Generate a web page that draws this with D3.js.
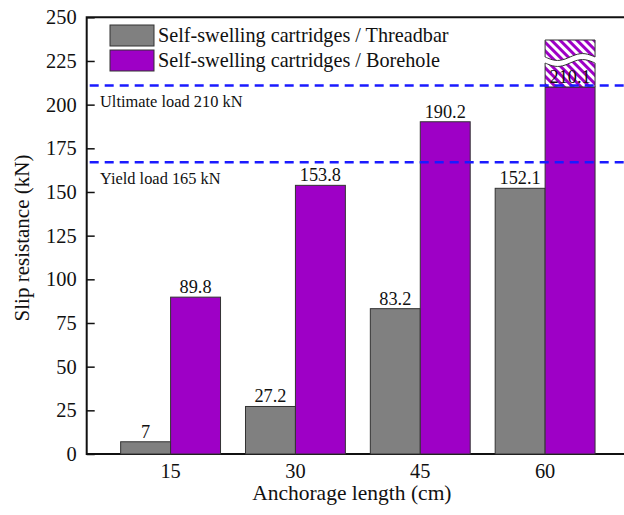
<!DOCTYPE html>
<html>
<head>
<meta charset="utf-8">
<script src="https://cdn.jsdelivr.net/npm/d3@7"></script>
<style>
  body { margin: 0; background: #fff; }
  svg text { font-family: 'Liberation Serif', 'Times New Roman', 'DejaVu Serif', serif !important; }
</style>
</head>
<body>
<div id="chart"></div>
<script>
////////// Data //////////
const lengths = ['15', '30', '45', '60'];
const threadbar = [7, 27.2, 83.2, 152.1];
const borehole = [89.8, 153.8, 190.2, 210.1];
const seriesNames = ['Self-swelling cartridges / Threadbar', 'Self-swelling cartridges / Borehole'];
const refLines = [
  { value: 211, label: 'Ultimate load 210 kN' },
  { value: 167, label: 'Yield load 165 kN' }
];
const yTicks = [0, 25, 50, 75, 100, 125, 150, 175, 200, 225, 250];
const brokenTop = 237; // top of broken (hatched) bar extension

////////// Layout //////////
const W = 624, H = 515;
const mLeft = 86.7, mRight = 629, mTop = 17.3, mBottom = 454;
const colors = ['#808080', '#9e00c6'];
const strokeColor = '#333';

const svg = d3.select('#chart').append('svg').attr('width', W).attr('height', H);

const x = d3.scaleBand().domain(lengths).range([mLeft, mRight]).paddingInner(0.2).paddingOuter(0.272);
const xs = d3.scaleBand().domain([0, 1]).range([0, x.bandwidth()]);
const y = d3.scaleLinear().domain([0, 250]).range([mBottom, mTop]);

// hatch pattern
const defs = svg.append('defs');
const pat = defs.append('pattern')
  .attr('id', 'hatch').attr('patternUnits', 'userSpaceOnUse')
  .attr('width', 6).attr('height', 6)
  .attr('patternTransform', 'rotate(-45)');
pat.append('rect').attr('width', 6).attr('height', 6).attr('fill', '#fff');
pat.append('rect').attr('width', 3).attr('height', 6).attr('fill', colors[1]);

// frame
svg.append('path')
  .attr('d', `M${mRight},${mTop}H${mLeft}V${mBottom}H${mRight}`)
  .attr('fill', 'none').attr('stroke', '#111').attr('stroke-width', 2);

// y axis (inward ticks)
const yAxis = d3.axisLeft(y).tickValues(yTicks).tickSize(-8).tickPadding(18);
const gy = svg.append('g').attr('transform', `translate(${mLeft},0)`).call(yAxis);
gy.select('.domain').remove();
gy.selectAll('.tick line').attr('stroke', '#111').attr('stroke-width', 1.5);
gy.selectAll('.tick text').attr('font-size', 20.4).attr('fill', '#111').attr('dx', 8);

// x axis (labels only)
const xAxis = d3.axisBottom(x).tickSize(0).tickPadding(10);
const gx = svg.append('g').attr('transform', `translate(0,${mBottom})`).call(xAxis);
gx.select('.domain').remove();
gx.selectAll('.tick text').attr('font-size', 20.4).attr('fill', '#111');

// axis titles
svg.append('text').attr('x', (mLeft + mRight) / 2 - 6).attr('y', 500)
  .attr('text-anchor', 'middle').attr('font-size', 21.5).attr('fill', '#111')
  .text('Anchorage length (cm)');
svg.append('text')
  .attr('transform', `translate(29,238) rotate(-90)`)
  .attr('text-anchor', 'middle').attr('font-size', 21).attr('fill', '#111')
  .text('Slip resistance (kN)');

// bars
const rows = lengths.map((c, i) => ({ cat: c, vals: [threadbar[i], borehole[i]] }));
const groups = svg.append('g').selectAll('g').data(rows).join('g')
  .attr('transform', d => `translate(${x(d.cat)},0)`);

groups.selectAll('rect').data(d => d.vals.map((v, k) => ({ v, k })))
  .join('rect')
  .attr('x', d => xs(d.k)).attr('width', xs.bandwidth())
  .attr('y', d => y(d.v)).attr('height', d => y(0) - y(d.v))
  .attr('fill', d => colors[d.k]).attr('stroke', strokeColor).attr('stroke-width', 1);

// broken bar extension on last borehole bar
const lastX = x(lengths[3]) + xs(1);
const bw = xs.bandwidth();
const waveMid = y(brokenTop) + 17;
const wave = (off) => d3.range(0, 1.0001, 0.05).map(t => [lastX + t * bw, waveMid + off + 3.5 * Math.sin(t * 2 * Math.PI)]);
const line = d3.line().curve(d3.curveBasis);
const upperWave = wave(0);
const lowerWave = wave(6);
// upper block
const upperPath = `M${lastX},${y(brokenTop)}H${lastX + bw}V${upperWave[upperWave.length - 1][1]}` +
  line(upperWave.slice().reverse()).replace(/^M/, 'L') + 'Z';
svg.append('path').attr('d', upperPath).attr('fill', 'url(#hatch)').attr('stroke', strokeColor).attr('stroke-width', 1);
// lower block
const lowerPath = line(lowerWave) + `L${lastX + bw},${y(borehole[3])}H${lastX}Z`;
svg.append('path').attr('d', lowerPath).attr('fill', 'url(#hatch)').attr('stroke', strokeColor).attr('stroke-width', 1);

// reference lines
refLines.forEach(r => {
  svg.append('line').attr('x1', mLeft + 3).attr('x2', W).attr('y1', y(r.value)).attr('y2', y(r.value))
    .attr('stroke', '#1a1aff').attr('stroke-width', 2.5).attr('stroke-dasharray', '9,6');
  svg.append('text').attr('x', 100).attr('y', y(r.value) + 22)
    .attr('font-size', 16.4).attr('fill', '#111').text(r.label);
});

// value labels (on top of everything)
const labels = svg.append('g').selectAll('g').data(rows).join('g')
  .attr('transform', d => `translate(${x(d.cat)},0)`);
labels.selectAll('text').data(d => d.vals.map((v, k) => ({ v, k })))
  .join('text')
  .attr('x', d => xs(d.k) + xs.bandwidth() / 2)
  .attr('y', d => y(d.v) - 4)
  .attr('text-anchor', 'middle').attr('font-size', 18.3).attr('fill', '#111')
  .text(d => d.v);

// legend
const legend = svg.append('g').attr('transform', 'translate(110,25)');
seriesNames.forEach((name, i) => {
  legend.append('rect').attr('x', 0).attr('y', i * 25).attr('width', 44).attr('height', 21)
    .attr('fill', colors[i]).attr('stroke', strokeColor).attr('stroke-width', 1);
  legend.append('text').attr('x', 48).attr('y', i * 25 + 17)
    .attr('font-size', 20.2).attr('fill', '#111').text(name);
});
</script>
</body>
</html>
